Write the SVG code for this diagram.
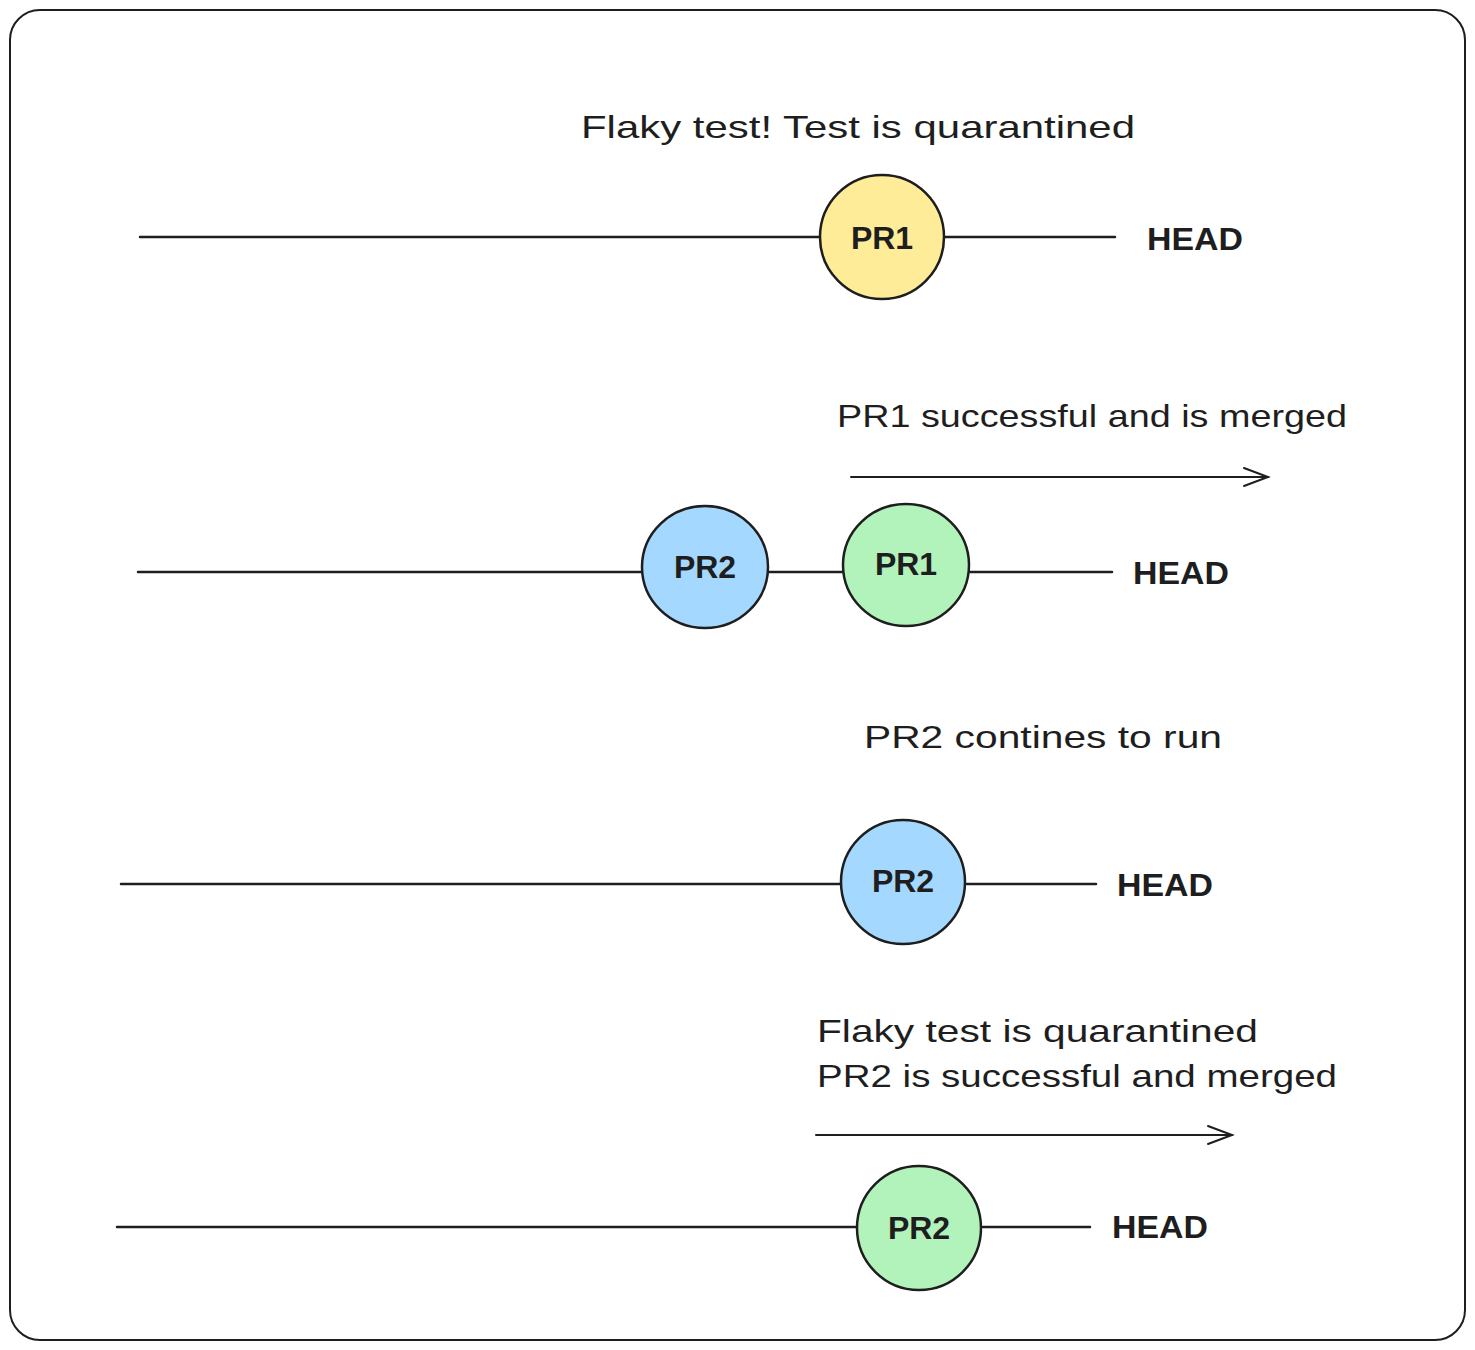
<svg xmlns="http://www.w3.org/2000/svg" width="1475" height="1350" viewBox="0 0 1475 1350">
<style>
.ln{stroke:#1e1e1e;stroke-width:2.5;fill:none;stroke-linecap:round}
.ar{stroke:#1e1e1e;stroke-width:2;fill:none;stroke-linecap:round}
.c{stroke:#1e1e1e;stroke-width:2.5}
.t{font-family:"Liberation Sans",Arial,sans-serif;font-size:32px;fill:#1e1e1e}
.n{font-family:"Liberation Sans",Arial,sans-serif;font-size:32px;fill:#1e1e1e;font-weight:bold;text-anchor:middle}
.h{font-family:"Liberation Sans",Arial,sans-serif;font-size:32px;fill:#1e1e1e;font-weight:bold}
</style>
<defs>
<marker id="ah" markerWidth="30" markerHeight="24" refX="26" refY="12" markerUnits="userSpaceOnUse" orient="auto">
<path d="M2,3 L26,12 L2,21" fill="none" stroke="#1e1e1e" stroke-width="2" stroke-linecap="round"/>
</marker>
</defs>
<rect x="0" y="0" width="1475" height="1350" fill="#ffffff"/>
<rect id="frame" x="10" y="10" width="1455" height="1330" rx="30" fill="#ffffff" stroke="#1e1e1e" stroke-width="2"/>
<g id="connectors">
<line class="ln" x1="140" y1="237" x2="820" y2="237"/>
<line class="ln" x1="945" y1="237" x2="1115" y2="237"/>
<line class="ar" x1="851" y1="477" x2="1268" y2="477" marker-end="url(#ah)"/>
<line class="ln" x1="138" y1="572" x2="642" y2="572"/>
<line class="ln" x1="768" y1="572" x2="843" y2="572"/>
<line class="ln" x1="970" y1="572" x2="1112" y2="572"/>
<line class="ln" x1="121" y1="884" x2="840" y2="884"/>
<line class="ln" x1="967" y1="884" x2="1096" y2="884"/>
<line class="ar" x1="816" y1="1135" x2="1232" y2="1135" marker-end="url(#ah)"/>
<line class="ln" x1="117" y1="1227" x2="857" y2="1227"/>
<line class="ln" x1="983" y1="1227" x2="1090" y2="1227"/>
</g>
<g id="label1"><text class="t" x="581" y="138" textLength="554" lengthAdjust="spacingAndGlyphs">Flaky test! Test is quarantined</text></g>
<g id="node-pr1-a"><circle class="c" cx="882" cy="237" r="62" fill="#ffec99"/><text class="n" x="882" y="249">PR1</text></g>
<g id="head1"><text class="h" x="1147" y="250" textLength="96" lengthAdjust="spacingAndGlyphs">HEAD</text></g>
<g id="label2"><text class="t" x="837" y="427" textLength="510" lengthAdjust="spacingAndGlyphs">PR1 successful and is merged</text></g>
<g id="node-pr2-a"><ellipse class="c" cx="705" cy="567" rx="63" ry="61" fill="#a5d8ff"/><text class="n" x="705" y="578">PR2</text></g>
<g id="node-pr1-b"><ellipse class="c" cx="906" cy="565" rx="63" ry="61" fill="#b2f2bb"/><text class="n" x="906" y="575">PR1</text></g>
<g id="head2"><text class="h" x="1133" y="584" textLength="96" lengthAdjust="spacingAndGlyphs">HEAD</text></g>
<g id="label3"><text class="t" x="864" y="748" textLength="358" lengthAdjust="spacingAndGlyphs">PR2 contines to run</text></g>
<g id="node-pr2-b"><circle class="c" cx="903" cy="882" r="62" fill="#a5d8ff"/><text class="n" x="903" y="892">PR2</text></g>
<g id="head3"><text class="h" x="1117" y="896" textLength="96" lengthAdjust="spacingAndGlyphs">HEAD</text></g>
<g id="label4">
<text class="t" x="817" y="1042" textLength="441" lengthAdjust="spacingAndGlyphs">Flaky test is quarantined</text>
<text class="t" x="817" y="1087" textLength="520" lengthAdjust="spacingAndGlyphs">PR2 is successful and merged</text>
</g>
<g id="node-pr2-c"><circle class="c" cx="919" cy="1228" r="62" fill="#b2f2bb"/><text class="n" x="919" y="1239">PR2</text></g>
<g id="head4"><text class="h" x="1112" y="1238" textLength="96" lengthAdjust="spacingAndGlyphs">HEAD</text></g>
</svg>
